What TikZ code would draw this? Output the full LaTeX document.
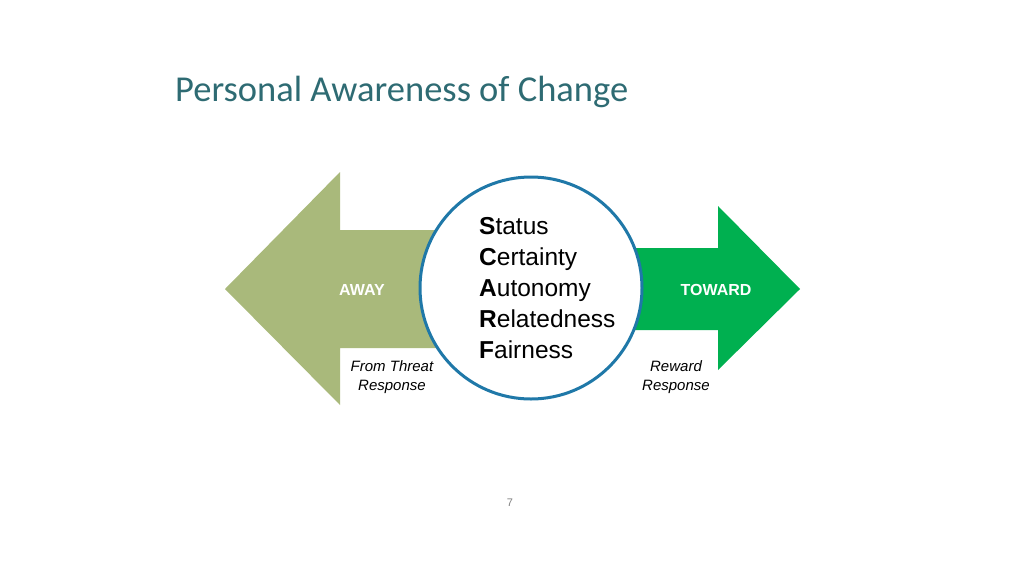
\documentclass[tikz,border=0pt]{standalone}
\usepackage{fontspec}
\setmainfont{Liberation Sans}
\newfontfamily\titlefont{Carlito}
\definecolor{olive}{HTML}{A9B97B}
\definecolor{grn}{HTML}{00B050}
\definecolor{ring}{HTML}{1F78A8}
\definecolor{ttl}{HTML}{2E6B73}
\begin{document}
\begin{tikzpicture}[x=1pt,y=-1pt,
  lbl/.style={font=\fontsize{16}{18}\selectfont\bfseries,text=white},
  note/.style={font=\fontsize{15}{19}\selectfont\itshape,align=center}]
\useasboundingbox (0,0) rectangle (1024,576);
\node[anchor=west,text=ttl,font=\titlefont\fontsize{36.5}{40}\selectfont,inner sep=0pt] (title) at (175,92) {Personal Awareness of Change};
\fill[olive] (225,289) -- (340,172) -- (340,230) -- (450,230) -- (450,348) -- (340,348) -- (340,405) -- cycle;
\fill[grn] (800,289) -- (718,206) -- (718,248) -- (610,248) -- (610,330) -- (718,330) -- (718,370) -- cycle;
\node[circle,draw=ring,line width=3pt,fill=white,minimum size=222pt] (c) at (531,288) {};
\node[anchor=west,align=left,font=\fontsize{24.5}{31}\selectfont,inner sep=0pt] (list) at (479,288)
 {\textbf{S}tatus\\\textbf{C}ertainty\\\textbf{A}utonomy\\\textbf{R}elatedness\\\textbf{F}airness};
\node[lbl] (away) at (362,290) {AWAY};
\node[lbl] (toward) at (716,290) {TOWARD};
\node[note] (threat) at (392,377) {From Threat\\Response};
\node[note] (reward) at (676,377) {Reward\\Response};
\node[text=gray,font=\fontsize{11}{13}\selectfont] (pg) at (510,503) {7};
\end{tikzpicture}
\end{document}
